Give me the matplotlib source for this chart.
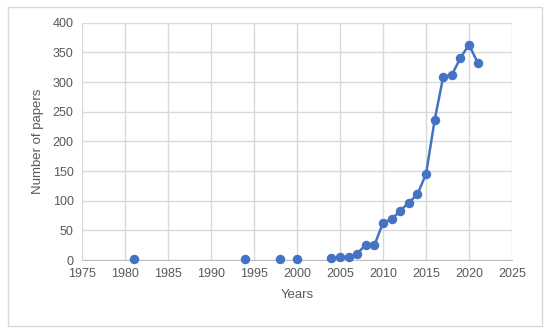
import matplotlib.pyplot as plt
from matplotlib.patches import Rectangle

# early isolated years (not joined by the line)
early_years = [1981, 1994, 1998, 2000]
early_papers = [1, 1, 1, 1]

# continuous series
years = [2004, 2005, 2006, 2007, 2008, 2009, 2010, 2011, 2012, 2013,
         2014, 2015, 2016, 2017, 2018, 2019, 2020, 2021]
papers = [3, 5, 5, 11, 26, 25, 63, 69, 83, 97,
          111, 145, 236, 309, 312, 341, 363, 333]

blue = '#4472C4'
grey_txt = '#595959'
grid_c = '#D9D9D9'

plt.rcParams['font.family'] = ['Liberation Sans', 'DejaVu Sans']

fig = plt.figure(figsize=(5.5, 3.36), dpi=100)
ax = fig.add_axes([0.149, 0.226, 0.782, 0.706])

ax.plot(early_years, early_papers, 'o', color=blue, markersize=5.8, clip_on=False, zorder=3)
ax.plot(years, papers, '-o', color=blue, linewidth=1.8, markersize=5.8, clip_on=False, zorder=3)

ax.set_xlim(1975, 2025)
ax.set_ylim(0, 400)
ax.set_xticks(range(1975, 2026, 5))
ax.set_yticks(range(0, 401, 50))
ax.grid(True, color=grid_c, linewidth=1)
ax.set_axisbelow(True)
for s in ['top', 'right', 'left']:
    ax.spines[s].set_visible(False)
ax.spines['bottom'].set_color('#BFBFBF')
ax.tick_params(length=0, colors=grey_txt, labelsize=9, pad=6)
ax.set_xlabel('Years', color=grey_txt, fontsize=9.5, labelpad=6)
ax.set_ylabel('Number of papers', color=grey_txt, fontsize=9.5, labelpad=6)

fig.patches.append(Rectangle((0.015, 0.03), 0.97, 0.95, transform=fig.transFigure,
                             fill=False, edgecolor=grid_c, linewidth=1))

plt.savefig('out.png', dpi=100)
